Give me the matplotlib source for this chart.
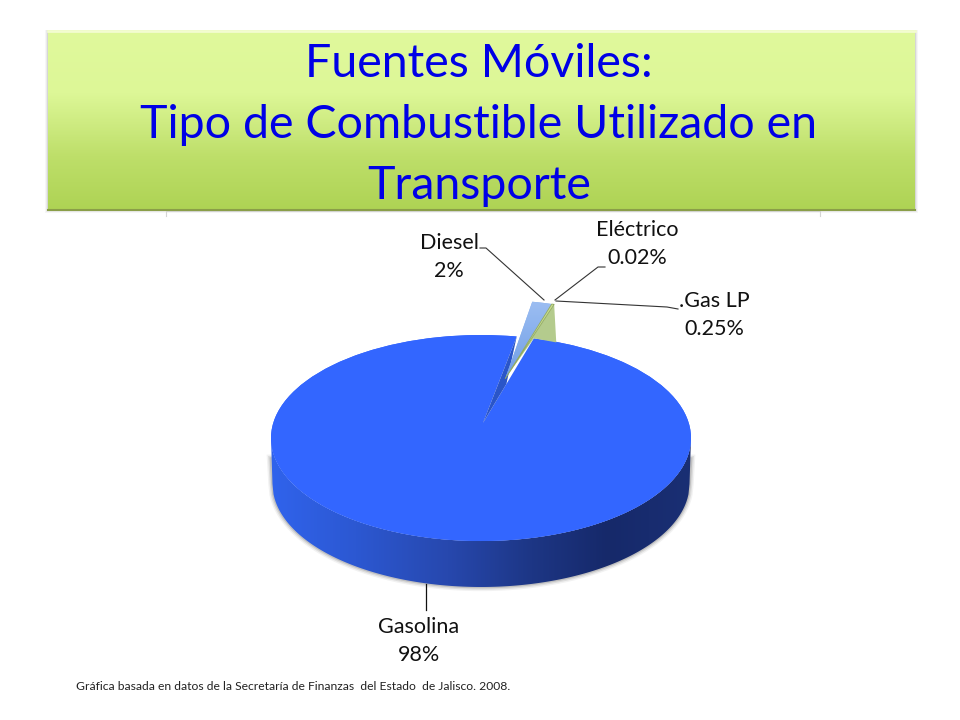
import numpy as np
import matplotlib
matplotlib.use("Agg")
import matplotlib.pyplot as plt
from matplotlib.colors import LinearSegmentedColormap
from matplotlib.patches import Polygon, Rectangle, Ellipse

plt.rcParams['font.family'] = ['Lato', 'DejaVu Sans']

# --- data ---
categories = ['Gasolina', 'Eléctrico', '.Gas LP', 'Diesel']
values = [97.73, 0.02, 0.25, 2.0]
label_values = ['98%', '0.02%', '0.25%', '2%']
explode = [0, 0.59, 0.59, 0.59]
colors = ['#3366FF', '#D9E8A8', '#C9DE90', '#8DB4F0']
title_lines = ['Fuentes Móviles:', 'Tipo de Combustible Utilizado en', 'Transporte']
footnote = 'Gráfica basada en datos de la Secretaría de Finanzas  del Estado  de Jalisco. 2008.'

W, H = 960, 720
CX, CY, RX, RY = 481, 438, 210, 103
DEPTH = 46
SMALL_R = 0.76

fig = plt.figure(figsize=(9.6, 7.2), dpi=100, facecolor='white')

# --- background layer in pixel coordinates ---
bg = fig.add_axes([0, 0, 1, 1], zorder=1)
bg.set_xlim(0, W); bg.set_ylim(H, 0); bg.axis('off')
for g, a in ((3, .05), (2, .08), (1, .14)):
    bg.add_patch(Rectangle((48 - g, 30), 867 + 2 * g, 180 + g,
                           fc='#606060', ec='none', alpha=a))
bar_cmap = LinearSegmentedColormap.from_list('bar', [(0, '#E0F99C'), (.35, '#DDF797'),
                                                     (.7, '#BEDF6A'), (1, '#AED354')])
bg.imshow(np.linspace(0, 1, 200)[:, None], cmap=bar_cmap, extent=(48, 915, 210, 30),
          aspect='auto', zorder=2)
bg.set_xlim(0, W); bg.set_ylim(H, 0)
bg.plot([48, 915], [31, 31], color='#F3FCD0', lw=2, zorder=3)
bg.plot([48, 915], [209.5, 209.5], color='#8A9E48', lw=1.5, zorder=3)
bg.plot([166, 166, 820, 820], [216, 210.5, 210.5, 216], color='#D5D5D5', lw=.8, zorder=1.5)
bg.text(W / 2 - 1, 125, '\n'.join(title_lines), color='#0000E6', fontsize=33.5,
        ha='center', va='center', linespacing=1.55, zorder=4)
bg.text(76, 686, footnote, fontsize=8.75, color='#222222', ha='left', va='center')

# --- pie layer: unit circle squashed onto the ellipse ---
ax = fig.add_axes([0, 0, 1, 1], zorder=2)
ax.patch.set_alpha(0)
wedges, _ = ax.pie(values, colors=colors, startangle=80.2, explode=explode,
                   wedgeprops=dict(linewidth=0, clip_on=False))
ax.set_aspect('auto')
ax.set_xlim((0 - CX) / RX, (W - CX) / RX)
ax.set_ylim((CY - H) / RY, CY / RY)
ax.axis('off')

d = DEPTH / RY
x = np.linspace(-1, 1, 400)
low = -np.sqrt(1 - x**2)
wx = np.r_[x, x[::-1] * 0.993]
wy = np.r_[low, (low - d)[::-1]]
# shadow along the lower rim and lower sides
sx = np.r_[-1.0, x * 0.993, 1.0]
sy = np.r_[-.2, low - d, -.2]
for lw, a in ((6, .10), (4, .18), (2, .30)):
    ax.plot(sx, sy, color='#808080', lw=lw, alpha=a, zorder=0.5)
wall = Polygon(np.c_[wx, wy], closed=True, fc='none', ec='none', zorder=1)
ax.add_patch(wall)
wall_cmap = LinearSegmentedColormap.from_list(
    'wall', [(0, '#3063EC'), (.2, '#2C58D2'), (.42, '#2748AE'), (.62, '#1D3685'),
             (.8, '#16296A'), (1, '#1A2F74')])
xlim, ylim = ax.get_xlim(), ax.get_ylim()
im = ax.imshow(np.linspace(0, 1, 256)[None, :], cmap=wall_cmap, extent=(-1, 1, -2, 0),
               aspect='auto', zorder=1)
im.set_clip_path(wall)

# full disc under the main wedge, notch on top of it
ax.add_patch(Ellipse((0, 0), 2, 2, fc=colors[0], ec='none', zorder=1.5))
gas = wedges[0]
gas.set_zorder(2)
gap_left = np.deg2rad(gas.theta1)
gap_right = np.deg2rad(gas.theta2 - 360 + 3.4)
apex = np.array([0.0095, 0.146])
rim_l = np.array([np.cos(gap_left), np.sin(gap_left)])
rim_r = np.array([np.cos(gap_right), np.sin(gap_right)])
ax.add_patch(Polygon([apex, rim_l, rim_l + [0, .12], rim_r + [0, .12], rim_r], closed=True,
                     fc='white', ec='none', zorder=3))
inner = apex + (rim_r - apex) * 0.46
ax.add_patch(Polygon([apex, rim_l, inner], closed=True, fc='#2A55C8', ec='none', zorder=3.1))

# exploded small wedges share one apex
elec, gaslp, diesel = wedges[1], wedges[2], wedges[3]
c = np.array(diesel.center) - np.array([0.022, 0.0])
for w in wedges[1:]:
    w.set_radius(SMALL_R)
    w.set_center(tuple(c))
    w.set_zorder(5)
gaslp.set_edgecolor('#8FA860')
gaslp.set_linewidth(.6)
gaslp.set_zorder(5.5)
t = np.deg2rad(gaslp.theta1)
top = c + SMALL_R * np.array([np.cos(t), np.sin(t)])
ax.add_patch(Polygon([c, top, top - [-.01, 38 / RY], rim_r], closed=True,
                     fc='#B4CB8D', ec='none', zorder=4))
diesel_cmap = LinearSegmentedColormap.from_list('d', ['#6F9DE6', '#9CBEF2'])
im2 = ax.imshow(np.linspace(1, 0, 64)[:, None], cmap=diesel_cmap,
                extent=(c[0] - .1, c[0] + .5, c[1], c[1] + SMALL_R),
                aspect='auto', zorder=5.2)
im2.set_clip_path(diesel)
ax.set_xlim(xlim); ax.set_ylim(ylim)

# --- labels and leaders in pixel coordinates ---
top_ax = fig.add_axes([0, 0, 1, 1], zorder=3)
top_ax.patch.set_alpha(0)
top_ax.set_xlim(0, W); top_ax.set_ylim(H, 0); top_ax.axis('off')
lab = dict(fontsize=15.5, color='#111111', ha='center', va='center', linespacing=1.5)
top_ax.text(419, 641, f'{categories[0]}\n{label_values[0]}', **lab)
top_ax.text(637, 244, f'{categories[1]}\n{label_values[1]}', **lab)
top_ax.text(714, 315, f'{categories[2]}\n{label_values[2]}', **lab)
top_ax.text(449, 257, f'{categories[3]}\n{label_values[3]}', **lab)
ln = dict(color='#333333', lw=.8)
top_ax.plot([480, 486, 544], [248, 248, 300], **ln)
top_ax.plot([605, 598, 555], [267, 267, 300], **ln)
top_ax.plot([678, 667, 556], [309, 307, 301], **ln)
top_ax.plot([426, 426], [584, 610], color='#111111', lw=.9)

fig.savefig('out.png', dpi=100)
